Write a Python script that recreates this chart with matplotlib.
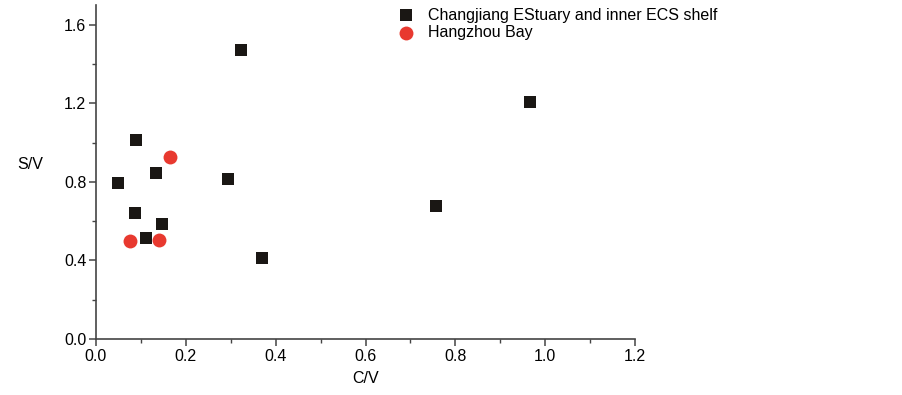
import matplotlib
matplotlib.use('Agg')
import matplotlib.pyplot as plt
from matplotlib.ticker import MultipleLocator

plt.rcParams['font.family'] = ['Liberation Sans', 'DejaVu Sans']

# Changjiang Estuary and inner ECS shelf
cj_cv = [0.049, 0.089, 0.087, 0.111, 0.134, 0.147, 0.294, 0.323, 0.370, 0.757, 0.966]
cj_sv = [0.797, 1.012, 0.644, 0.516, 0.844, 0.588, 0.813, 1.472, 0.414, 0.675, 1.207]

# Hangzhou Bay
hz_cv = [0.076, 0.140, 0.165]
hz_sv = [0.501, 0.506, 0.925]

fig = plt.figure(figsize=(9.03, 3.95), dpi=100)
ax = fig.add_axes([0.1063, 0.1418, 0.597, 0.845])

ax.scatter(cj_cv, cj_sv, marker='s', s=78, color='#1a1714', linewidths=0,
           label='Changjiang EStuary and inner ECS shelf', zorder=3)
ax.scatter(hz_cv, hz_sv, marker='o', s=100, color='#e8392f', linewidths=0,
           label='Hangzhou Bay', zorder=3)

ax.set_xlim(0, 1.2)
ax.set_ylim(0, 1.7)
ax.xaxis.set_major_locator(MultipleLocator(0.2))
ax.xaxis.set_minor_locator(MultipleLocator(0.1))
ax.yaxis.set_major_locator(MultipleLocator(0.4))
ax.yaxis.set_minor_locator(MultipleLocator(0.2))
ax.xaxis.set_major_formatter(plt.FormatStrFormatter('%.1f'))
ax.yaxis.set_major_formatter(plt.FormatStrFormatter('%.1f'))

for s in ['top', 'right']:
    ax.spines[s].set_visible(False)
for s in ['left', 'bottom']:
    ax.spines[s].set_color('#444444')
    ax.spines[s].set_linewidth(1.2)
ax.tick_params(which='both', direction='out', color='#444444', labelsize=11.5)
ax.tick_params(which='major', length=5, width=1.1, pad=2)
ax.tick_params(which='minor', length=3, width=1.0)

ax.set_xlabel('C/V', fontsize=11.5, labelpad=5)
ax.set_ylabel('S/V', fontsize=11.5, rotation=0, labelpad=24)

fig.legend(loc='upper left', bbox_to_anchor=(0.432, 0.997), frameon=False,
           fontsize=11.5, handlelength=1.2, handletextpad=0.8,
           labelspacing=0.15, borderaxespad=0)

fig.savefig('out.png', dpi=100)
